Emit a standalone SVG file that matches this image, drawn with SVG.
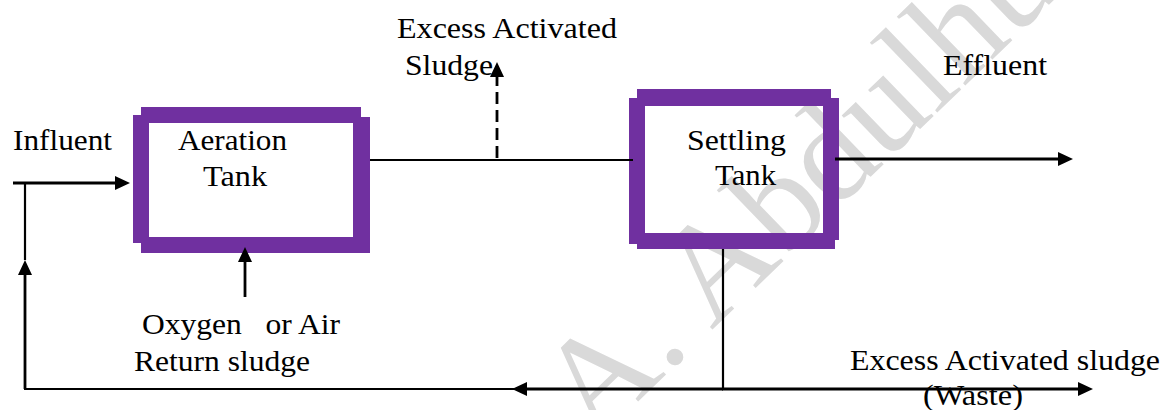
<svg xmlns="http://www.w3.org/2000/svg" width="1163" height="410" viewBox="0 0 1163 410">
  <style>
    .lbl { font-family: "Liberation Serif", "Times New Roman", serif; font-size: 30px; fill: #000; }
    .wm { font-family: "Liberation Serif", "Times New Roman", serif; font-size: 140px; fill: #d9d9d9; }
    .tank { fill: #7030a0; }
    .ln { stroke: #000; fill: none; stroke-width: 2.2; }
    .thin { stroke-width: 1.8; }
    .thick { stroke-width: 2.8; }
    .dash { stroke-dasharray: 12 6; }
  </style>
  <defs>
    <marker id="ah" viewBox="0 0 15 14" refX="11" refY="7" markerWidth="15" markerHeight="14" markerUnits="userSpaceOnUse" orient="auto">
      <path d="M0,0 L15,7 L0,14 z" fill="#000"/>
    </marker>
  </defs>
  <rect width="1163" height="410" fill="#fff"/>

  <g id="watermark">
    <text class="wm" transform="translate(594,444) rotate(-44)">A. Abdulhu</text>
  </g>

  <g id="aeration-tank">
    <rect class="tank" x="141" y="107" width="220" height="16"/>
    <rect class="tank" x="133" y="115" width="16" height="128"/>
    <rect class="tank" x="353" y="117" width="17" height="128"/>
    <rect class="tank" x="141" y="237" width="229" height="16"/>
    <text class="lbl" x="178" y="150" textLength="109" lengthAdjust="spacingAndGlyphs">Aeration</text>
    <text class="lbl" x="203" y="186" textLength="64" lengthAdjust="spacingAndGlyphs">Tank</text>
  </g>

  <g id="settling-tank">
    <rect class="tank" x="637" y="89" width="194" height="17"/>
    <rect class="tank" x="629" y="98" width="16" height="146"/>
    <rect class="tank" x="823" y="98" width="16" height="142"/>
    <rect class="tank" x="637" y="233" width="198" height="16"/>
    <text class="lbl" x="687" y="150" textLength="99" lengthAdjust="spacingAndGlyphs">Settling</text>
    <text class="lbl" x="715" y="185" textLength="61" lengthAdjust="spacingAndGlyphs">Tank</text>
  </g>

  <g id="connectors">
    <path class="ln thick" d="M13,183 H126" marker-end="url(#ah)"/>
    <path class="ln" d="M25,260 V183"/>
    <path class="ln thick" d="M25,389 V264" marker-end="url(#ah)"/>
    <path class="ln thin" d="M24,389 H514"/>
    <path class="ln thick" d="M723,389 H516" marker-end="url(#ah)"/>
    <path class="ln thick" d="M722,389 H1089" marker-end="url(#ah)"/>
    <path class="ln" d="M723,249 V389"/>
    <path class="ln thick" d="M245,297 V251" marker-end="url(#ah)"/>
    <path class="ln" d="M370,160 H633"/>
    <path class="ln thick dash" d="M497,158 V66" marker-end="url(#ah)"/>
    <path class="ln thick" d="M835,159 H1069" marker-end="url(#ah)"/>
  </g>

  <g id="labels">
    <text class="lbl" x="13" y="150" textLength="99" lengthAdjust="spacingAndGlyphs">Influent</text>
    <text class="lbl" x="397" y="38" textLength="220" lengthAdjust="spacingAndGlyphs">Excess Activated</text>
    <text class="lbl" x="405" y="75" textLength="88" lengthAdjust="spacingAndGlyphs">Sludge</text>
    <text class="lbl" x="943" y="75" textLength="104" lengthAdjust="spacingAndGlyphs">Effluent</text>
    <text class="lbl" x="142" y="334" textLength="198" lengthAdjust="spacingAndGlyphs" xml:space="preserve" style="white-space:pre">Oxygen   or Air</text>
    <text class="lbl" x="134" y="371" textLength="176" lengthAdjust="spacingAndGlyphs">Return sludge</text>
    <text class="lbl" x="850" y="370" textLength="310" lengthAdjust="spacingAndGlyphs">Excess Activated sludge</text>
    <text class="lbl" x="923" y="405" textLength="100" lengthAdjust="spacingAndGlyphs">(Waste)</text>
  </g>
</svg>
